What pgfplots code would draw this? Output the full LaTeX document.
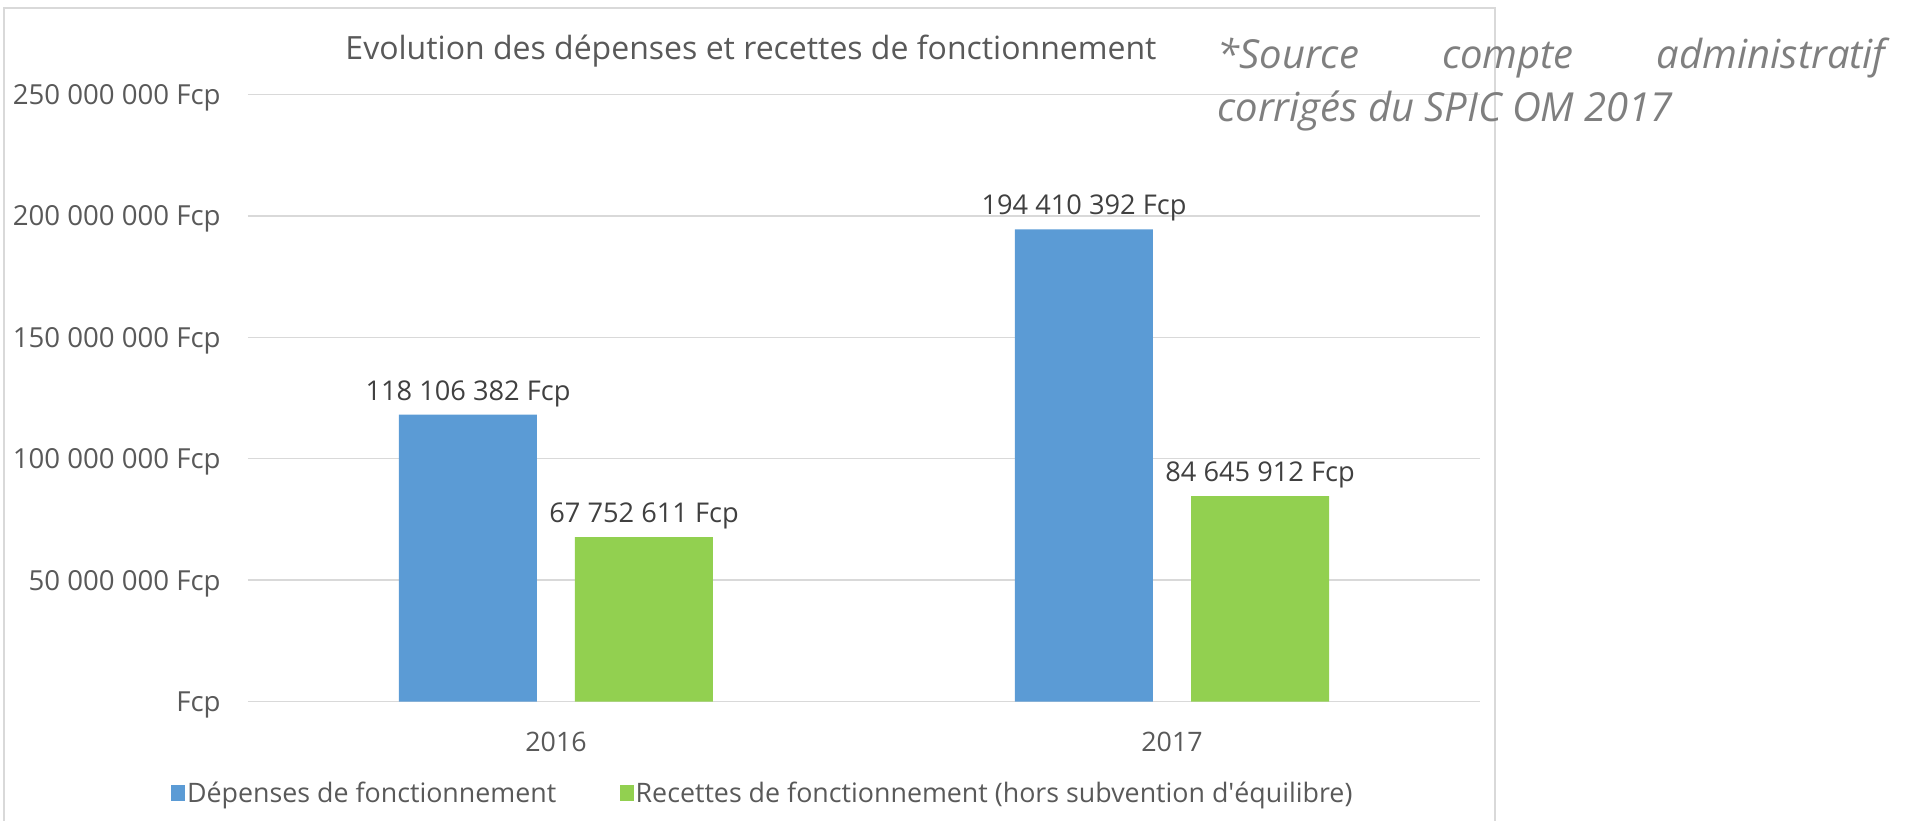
\documentclass[border=0pt]{standalone}
\usepackage{fontspec}
\setmainfont{Open Sans}
\usepackage{pgfplots}
\pgfplotsset{compat=1.18}
\definecolor{bblue}{HTML}{5B9BD5}
\definecolor{ggreen}{HTML}{92D050}
\definecolor{txt}{HTML}{595959}
\definecolor{lbl}{HTML}{404040}
\definecolor{gridc}{HTML}{D9D9D9}
\definecolor{src}{HTML}{7F7F7F}
\newcommand{\chartfont}{\fontsize{13.4}{16}\selectfont}

\begin{document}
\begin{tikzpicture}
  \path[use as bounding box] (-124pt,-59.15pt) rectangle (832.5pt,350.85pt);
  % chart frame
  \draw[gridc, line width=0.8pt] (-122pt,-80pt) rectangle (623.5pt,346.85pt);
  \begin{axis}[
      at={(0,0)}, anchor=south west,
      scale only axis,
      width=616pt, height=303.7pt,
      ybar=19pt,
      bar width=69pt,
      xmin=-0.5, xmax=1.5,
      ymin=0, ymax=250000000,
      xtick={0,1},
      xticklabels={2016,2017},
      ytick={0,50000000,100000000,150000000,200000000,250000000},
      yticklabels={Fcp,50 000 000 Fcp,100 000 000 Fcp,150 000 000 Fcp,200 000 000 Fcp,250 000 000 Fcp},
      scaled y ticks=false,
      major tick length=0pt,
      axis line style={draw=none},
      ymajorgrids=true,
      xmajorgrids=false,
      grid style={gridc, line width=0.75pt},
      tick label style={font=\chartfont, text=txt, inner sep=0pt},
      yticklabel style={font=\fontsize{13.8}{16}\selectfont, anchor=base east, xshift=-13.5pt, yshift=-4.9pt},
      xticklabel style={anchor=base, yshift=-25pt},
      nodes near coords,
      point meta=explicit symbolic,
      nodes near coords style={font=\fontsize{13.6}{16}\selectfont, text=lbl, anchor=base, inner sep=0pt, yshift=7.3pt},
      legend columns=2,
      legend style={
          at={(0.417,-0.151)}, anchor=center,
          draw=none, fill=none,
          font=\chartfont, text=txt,
          /tikz/every even column/.append style={column sep=31.7pt},
          nodes={inner sep=0pt}
      },
      legend image code/.code={\fill[#1] (0pt,-4pt) rectangle (7pt,4pt);},
  ]
    \addplot[fill=bblue, draw=none]
      coordinates {(0,118106382)[118 106 382 Fcp] (1,194410392)[194 410 392 Fcp]};
    \addplot[fill=ggreen, draw=none]
      coordinates {(0,67752611)[67 752 611 Fcp] (1,84645912)[84 645 912 Fcp]};
    \legend{\hspace{1pt}Dépenses de fonctionnement, \hspace{1pt}Recettes de fonctionnement (hors subvention d\textquotesingle équilibre)}
  \end{axis}
  % title
  \node[anchor=base, inner sep=0pt, text=txt, font=\fontsize{16}{19}\selectfont] at (251.5pt,321.2pt)
    {Evolution des dépenses et recettes de fonctionnement};
  % source note
  \node[anchor=base west, inner sep=0pt, text=src, font=\fontsize{20}{24}\selectfont\itshape] at (484.5pt,316.35pt)
    {\makebox[334pt][s]{*Source\hfill compte\hfill administratif}};
  \node[anchor=base west, inner sep=0pt, text=src, font=\fontsize{20}{24}\selectfont\itshape] at (484.5pt,289.85pt)
    {corrigés du SPIC OM 2017};
\end{tikzpicture}
\end{document}
